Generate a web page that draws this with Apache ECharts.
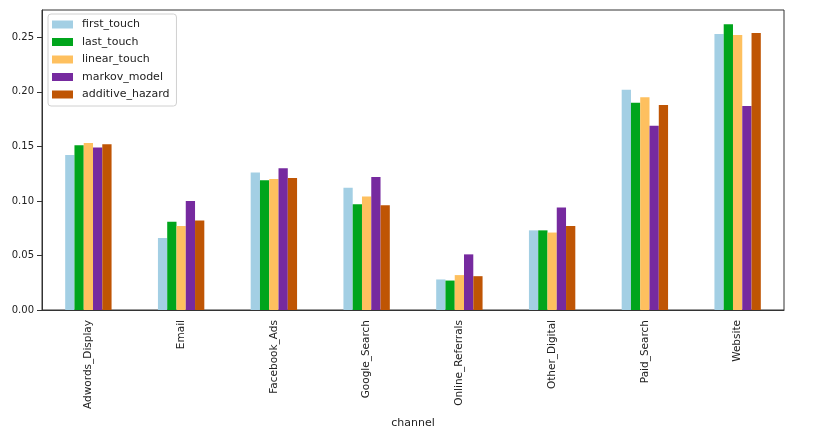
<!DOCTYPE html>
<html><head><meta charset="utf-8">
<script src="https://cdn.jsdelivr.net/npm/echarts@6/dist/echarts.min.js"></script>
<style>html,body{margin:0;padding:0;background:#fff;}#c{width:814px;height:434px;}</style>
</head><body><div id="c"></div>
<script>
const categories = ['Adwords_Display','Email','Facebook_Ads','Google_Search','Online_Referrals','Other_Digital','Paid_Search','Website'];
const seriesNames = ['first_touch','last_touch','linear_touch','markov_model','additive_hazard'];
const first_touch = [0.142, 0.066, 0.126, 0.112, 0.028, 0.073, 0.202, 0.253];
const last_touch = [0.151, 0.081, 0.119, 0.097, 0.027, 0.073, 0.190, 0.262];
const linear_touch = [0.153, 0.077, 0.120, 0.104, 0.032, 0.071, 0.195, 0.252];
const markov_model = [0.149, 0.100, 0.130, 0.122, 0.051, 0.094, 0.169, 0.187];
const additive_hazard = [0.152, 0.082, 0.121, 0.096, 0.031, 0.077, 0.188, 0.254];
const yTicks = [0.00, 0.05, 0.10, 0.15, 0.20, 0.25];
const colors = ['#a3cfe4','#00a51c','#fec05f','#762a9f','#bf5504'];
const values = [first_touch, last_touch, linear_touch, markov_model, additive_hazard];

const chart = echarts.init(document.getElementById('c'));
const font = 'DejaVu Sans';
chart.setOption({
  animation: false,
  color: colors,
  textStyle: {fontFamily: font},
  grid: {left: 42, right: 30, top: 10, bottom: 124, show: true, borderColor: '#333', borderWidth: 1, backgroundColor: 'transparent'},
  legend: {
    orient: 'vertical', left: 48, top: 14, itemWidth: 21, itemHeight: 8, itemGap: 6.5,
    icon: 'rect', backgroundColor: '#fff', borderColor: '#d0d0d0', borderWidth: 1, borderRadius: 3,
    padding: [5, 7, 6, 4],
    textStyle: {fontSize: 11, color: '#222', fontFamily: font, padding: [0, 0, 0, 4]},
    data: seriesNames
  },
  xAxis: {
    type: 'category', data: categories,
    name: 'channel', nameLocation: 'middle', nameGap: 108,
    nameTextStyle: {fontSize: 11, color: '#222', fontFamily: font},
    axisLine: {lineStyle: {color: '#333'}},
    axisTick: {alignWithLabel: true, length: 4, lineStyle: {color: '#333'}},
    axisLabel: {rotate: 90, fontSize: 10.5, color: '#222', margin: 10, fontFamily: font, interval: 0}
  },
  yAxis: {
    type: 'value', min: 0, max: 0.275, interval: 0.05,
    splitLine: {show: false},
    axisLine: {show: true, lineStyle: {color: '#333'}},
    axisTick: {show: true, length: 5, lineStyle: {color: '#333'}},
    axisLabel: {fontSize: 10, color: '#222', margin: 8, fontFamily: font, showMaxLabel: false,
      formatter: v => yTicks.some(t => Math.abs(t - v) < 1e-9) ? v.toFixed(2) : ''}
  },
  series: seriesNames.map((n, i) => ({
    name: n, type: 'bar', data: values[i],
    barGap: '0%', barCategoryGap: '50%',
    itemStyle: {color: colors[i]}
  }))
});
</script></body></html>
